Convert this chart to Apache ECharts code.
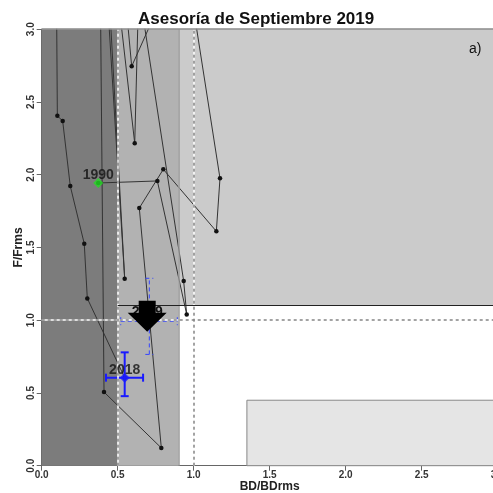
<!DOCTYPE html>
<html><head><meta charset="utf-8">
<script src="https://cdn.jsdelivr.net/npm/echarts@6/dist/echarts.min.js"></script>
<style>html,body{margin:0;padding:0;background:#fff}#c{width:493px;height:493px}</style>
</head><body><div id="c"></div>
<script>
// ---- data ----
const years = [1990,1991,1992,1993,1994,1995,1996,1997,1998,1999,2000,2001,2002,2003,2004,2005,2006,2007,2008,2009,2010,2011,2012,2013,2014,2015,2016,2017,2018];
const bdRatio = [0.372,0.761,0.954,0.934,0.628,0.787,0.592,0.543,0.644,0.612,0.483,0.975,1.173,1.149,0.800,0.642,0.787,0.410,0.383,0.440,0.546,0.415,0.097,0.103,0.138,0.188,0.280,0.300,0.546];
const fRatio  = [1.943,1.957,1.040,1.269,3.35,3.20,2.745,3.30,3.50,2.216,3.40,3.30,1.975,1.611,2.037,1.771,0.122,0.506,3.60,3.30,1.285,3.50,3.30,2.405,2.369,1.922,1.526,1.150,0.605];
// error bars: [bd, f, bdLow, bdHigh, fLow, fHigh]
const err2018 = [0.546, 0.605, 0.423, 0.667, 0.478, 0.779];
const err2019 = [0.708, 0.993, 0.520, 0.892, 0.765, 1.288];
const projYear = '2019';
const arrowPos = [0.694, 1.027];
// reference levels
const bdLim = 0.5, bdMid = 0.9, bdRef = 1.0, fRef = 1.0, fLim = 1.1;
const boxBd = 1.35, boxF = 0.45, axMax = 3;

const chart = echarts.init(document.getElementById('c'));
const FF = 'Liberation Sans, Arial, sans-serif';
const pts = bdRatio.map((v,i)=>[v, fRatio[i]]);

function errRender(color, dashed, width, label){
  return function(params, api){
    const x = api.value(0), y = api.value(1);
    const c = api.coord([x, y]);
    const l = api.coord([api.value(2), y]), r = api.coord([api.value(3), y]);
    const b = api.coord([x, api.value(4)]), t = api.coord([x, api.value(5)]);
    const cap = 4;
    const st = {stroke: color, lineWidth: width, lineDash: dashed ? [4,3] : null, fill: null};
    const ln = (x1,y1,x2,y2)=>({type:'line', shape:{x1,y1,x2,y2}, style:st});
    const ch = [
      ln(l[0],l[1],r[0],r[1]),
      ln(l[0],l[1]-cap,l[0],l[1]+cap),
      ln(r[0],r[1]-cap,r[0],r[1]+cap),
      ln(b[0],b[1],t[0],t[1]),
      ln(b[0]-cap,b[1],b[0]+cap,b[1]),
      ln(t[0]-cap,t[1],t[0]+cap,t[1])
    ];
    if (label) ch.push({type:'text', x:c[0]-2, y:c[1]-9, style:{text:label, fill:'#111',
      font:'bold 14px Liberation Sans, Arial, sans-serif', align:'center', verticalAlign:'middle'}});
    return {type:'group', children:ch};
  };
}

const axisCommon = {
  type:'value', min:0, max:axMax, interval:0.5,
  axisLine:{show:true, lineStyle:{color:'#666', width:1}},
  axisTick:{show:true, length:5, lineStyle:{color:'#666'}},
  splitLine:{show:false},
  axisLabel:{fontSize:10, fontWeight:'bold', fontFamily:FF, color:'#333', margin:5,
    formatter:v=>v.toFixed(1)},
  nameLocation:'middle', nameMoveOverlap:false,
  nameTextStyle:{fontSize:12, fontWeight:'bold', fontFamily:FF, color:'#222'}
};

chart.setOption({
  animation:false,
  title:[
    {text:'Asesoría de Septiembre 2019', left:133, top:6,
     textStyle:{fontSize:17, fontWeight:'bold', fontFamily:FF, color:'#111'}},
    {text:'a)', left:464, top:37, textStyle:{fontSize:14, fontWeight:'normal', fontFamily:FF, color:'#111'}}
  ],
  grid:{left:41.7, right:-4.7, top:29.2, bottom:27.3, containLabel:false, outerBoundsMode:'none'},
  xAxis:Object.assign({}, axisCommon, {name:'BD/BDrms', nameGap:15}),
  yAxis:Object.assign({}, axisCommon, {name:'F/Frms', nameGap:17,
    axisLabel:Object.assign({}, axisCommon.axisLabel, {rotate:90})}),
  series:[
    { // zones
      type:'line', data:[], silent:true, z:1,
      markArea:{silent:true, label:{show:false}, data:[
        [{coord:[0,0], itemStyle:{color:'#7c7c7c'}},{coord:[bdLim,axMax]}],
        [{coord:[bdLim,0], itemStyle:{color:'#b2b2b2'}},{coord:[bdMid,axMax]}],
        [{coord:[bdMid,fLim], itemStyle:{color:'#cbcbcb'}},{coord:[axMax,axMax]}],
        [{coord:[boxBd,0], itemStyle:{color:'#e5e5e5', borderColor:'#888', borderWidth:1}},{coord:[axMax,boxF]}]
      ]}
    },
    { // solid reference lines
      type:'line', data:[], silent:true, z:2,
      markLine:{silent:true, symbol:['none','none'], label:{show:false}, data:[
        {xAxis:bdLim, lineStyle:{color:'#ffffff', width:1.5, type:'solid'}},
        {xAxis:bdRef, lineStyle:{color:'#ffffff', width:1.5, type:'solid'}},
        {yAxis:fRef, lineStyle:{color:'#ffffff', width:1.5, type:'solid'}},
        [{coord:[bdMid,0], lineStyle:{color:'#9a9a9a', width:1.5, type:'solid'}},{coord:[bdMid,axMax]}],
        [{coord:[bdLim,fLim], lineStyle:{color:'#222', width:1, type:'solid'}},{coord:[axMax,fLim]}],
        {yAxis:axMax, lineStyle:{color:'#8a8a8a', width:1.5, type:'solid'}}
      ]}
    },
    { // dashed reference lines
      type:'line', data:[], silent:true, z:2,
      markLine:{silent:true, symbol:['none','none'], label:{show:false},
        lineStyle:{color:'#858585', width:1.5, type:[3,3]},
        data:[{xAxis:bdLim},{xAxis:bdRef},{yAxis:fRef}]}
    },
    { // trajectory
      type:'line', data:pts, z:3, clip:true, silent:true,
      symbol:'circle', symbolSize:4.5, showSymbol:true,
      itemStyle:{color:'#111'}, lineStyle:{color:'#333', width:1}
    },
    {type:'custom', z:4, silent:true, data:[err2019], renderItem:errRender('#3344ff', true, 1, projYear)},
    {type:'custom', z:4, silent:true, data:[err2018], renderItem:errRender('#1a1aff', false, 2, null)},
    { // first and last year markers
      type:'scatter', z:6, silent:true, symbol:'diamond', symbolSize:10,
      data:[
        {value:pts[0], name:String(years[0]), itemStyle:{color:'#22dd22'}},
        {value:pts[pts.length-1], name:String(years[years.length-1]), itemStyle:{color:'#1a1aff'}}
      ],
      label:{show:true, formatter:'{b}', position:'inside', offset:[0,-8],
        fontSize:14, fontWeight:'bold', fontFamily:FF, color:'#111'}
    },
    { // arrow
      type:'custom', z:10, silent:true, data:[arrowPos],
      renderItem:function(params, api){
        const p = api.coord([api.value(0), api.value(1)]);
        return {type:'path', x:p[0]-19.5, y:p[1]-15.5,
          shape:{pathData:'M11,0L28,0L28,12L39,12L19.5,31L0,12L11,12Z', x:0, y:0, width:39, height:31},
          style:{fill:'#000'}};
      }
    }
  ]
});
</script></body></html>
